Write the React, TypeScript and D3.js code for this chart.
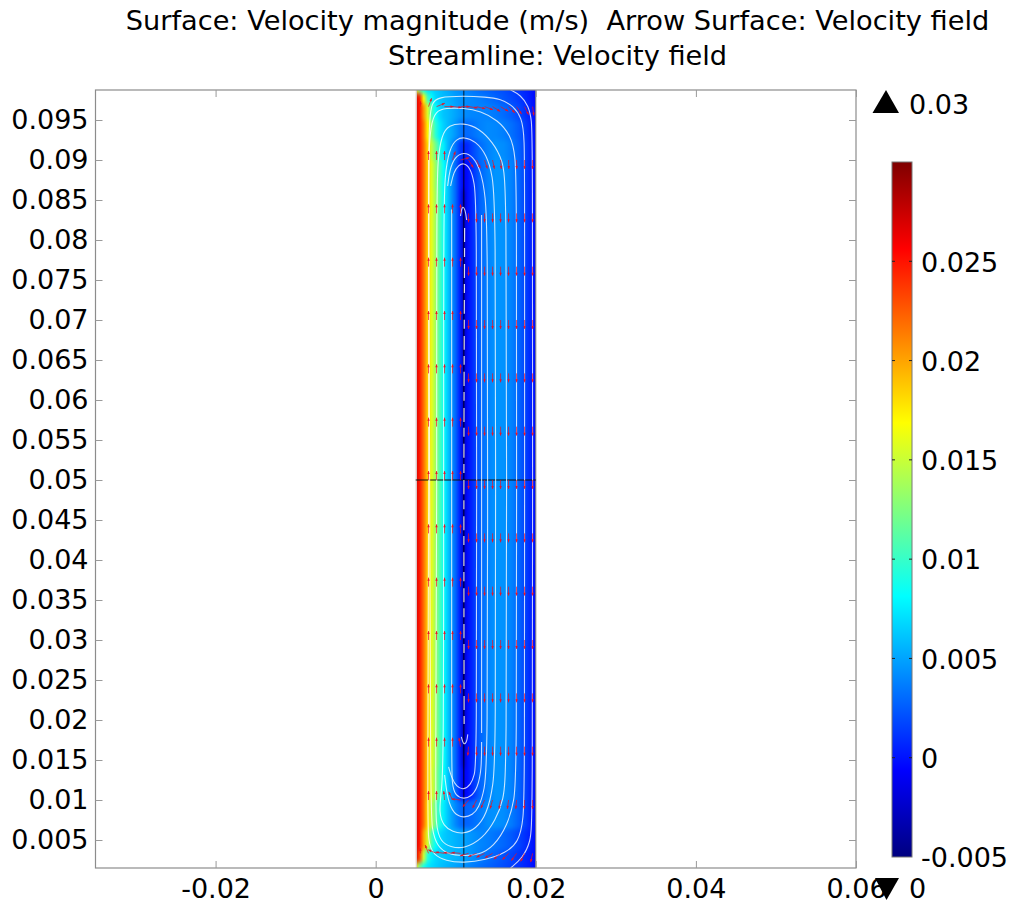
import React, { useEffect, useRef } from 'react';
import * as d3 from 'd3';

const WIDTH = 1009;
const HEIGHT = 903;
const FONT = '"DejaVu Sans", sans-serif';

const titleLines = [
  'Surface: Velocity magnitude (m/s)  Arrow Surface: Velocity field',
  'Streamline: Velocity field',
];

const xTicks = [-0.02, 0, 0.02, 0.04, 0.06];
const yTicks = [
  0.005, 0.01, 0.015, 0.02, 0.025, 0.03, 0.035, 0.04, 0.045, 0.05, 0.055, 0.06, 0.065, 0.07, 0.075, 0.08, 0.085, 0.09,
  0.095,
];
const barTicks = [-0.005, 0, 0.005, 0.01, 0.015, 0.02, 0.025];
const maxLabel = '0.03';
const minLabel = '0';

// jet colour table, fractions of the colour range
const jetStops = [0, 0.125, 0.375, 0.625, 0.875, 1];
const jetColors = ['#00007f', '#0000ff', '#00ffff', '#ffff00', '#ff0000', '#7f0000'];

// velocity samples
const fieldX = [
  0.005, 0.0055, 0.006, 0.0065, 0.007, 0.0075, 0.008, 0.0085, 0.009, 0.0095, 0.01, 0.0105, 0.011, 0.0115, 0.012, 0.013,
  0.014, 0.015, 0.016, 0.017, 0.018, 0.019, 0.02,
];
const fieldY = [
  0.09875, 0.09788, 0.09625, 0.09375, 0.09125, 0.08875, 0.08375, 0.05, 0.01625, 0.01188, 0.00813, 0.00463, 0.00288,
  0.0015,
];
const fieldRows = [
  [0.0165, 0.012, 0.0085, 0.0072, 0.0068, 0.0064, 0.006, 0.0056, 0.0052, 0.0048, 0.0045, 0.0042, 0.004, 0.0037, 0.0035, 0.003, 0.0027, 0.0023, 0.002, 0.0015, 0.001, 0.0004, -0.0004],
  [0.027, 0.0245, 0.017, 0.0105, 0.0082, 0.0068, 0.0062, 0.0058, 0.0055, 0.0052, 0.0048, 0.0045, 0.0043, 0.0041, 0.004, 0.0037, 0.0033, 0.0028, 0.0023, 0.0018, 0.0013, 0.0005, -0.0004],
  [0.027, 0.0248, 0.0205, 0.0155, 0.0105, 0.0082, 0.0068, 0.0061, 0.0058, 0.0054, 0.005, 0.0046, 0.0042, 0.0041, 0.004, 0.0039, 0.0038, 0.0035, 0.003, 0.0025, 0.0017, 0.0007, -0.0003],
  [0.027, 0.0248, 0.0215, 0.0172, 0.0128, 0.0095, 0.0075, 0.0065, 0.0058, 0.0052, 0.0045, 0.0037, 0.003, 0.003, 0.0032, 0.0038, 0.0041, 0.004, 0.0037, 0.0032, 0.0024, 0.0011, -0.0003],
  [0.027, 0.0248, 0.0218, 0.0182, 0.0148, 0.012, 0.0093, 0.0075, 0.0058, 0.0045, 0.0032, 0.0015, 0.0005, 0.0008, 0.0016, 0.003, 0.0038, 0.0044, 0.0042, 0.0036, 0.0026, 0.0012, -0.0003],
  [0.027, 0.0248, 0.0218, 0.0185, 0.0158, 0.0132, 0.0106, 0.0082, 0.0063, 0.0045, 0.0028, 0.0007, -0.001, -0.0002, 0.0007, 0.0027, 0.0038, 0.0045, 0.0044, 0.0038, 0.0027, 0.0012, -0.0003],
  [0.027, 0.0248, 0.0218, 0.0185, 0.016, 0.0135, 0.0108, 0.0083, 0.0063, 0.0045, 0.0028, 0.0005, -0.0025, -0.0002, 0.0006, 0.0027, 0.0038, 0.0045, 0.0044, 0.0038, 0.0027, 0.0012, -0.0003],
  [0.027, 0.0248, 0.0218, 0.0185, 0.016, 0.0135, 0.0108, 0.0083, 0.0063, 0.0045, 0.0028, 0.0005, -0.0025, -0.0002, 0.0006, 0.0027, 0.0038, 0.0045, 0.0044, 0.0038, 0.0027, 0.0012, -0.0003],
  [0.027, 0.0248, 0.0218, 0.0185, 0.016, 0.0135, 0.0108, 0.0083, 0.0063, 0.0045, 0.0028, 0.0005, -0.0025, -0.0002, 0.0006, 0.0027, 0.0038, 0.0045, 0.0044, 0.0038, 0.0027, 0.0012, -0.0003],
  [0.027, 0.0248, 0.0218, 0.0185, 0.0158, 0.0132, 0.0106, 0.0082, 0.0063, 0.0045, 0.0028, 0.0007, -0.001, -0.0002, 0.0007, 0.0027, 0.0038, 0.0045, 0.0044, 0.0038, 0.0027, 0.0012, -0.0003],
  [0.027, 0.0248, 0.0218, 0.0178, 0.0145, 0.0115, 0.0092, 0.0075, 0.0062, 0.005, 0.004, 0.0032, 0.0027, 0.0028, 0.003, 0.0036, 0.0042, 0.0044, 0.0042, 0.0036, 0.0026, 0.0012, -0.0003],
  [0.027, 0.0248, 0.02, 0.0155, 0.0105, 0.0082, 0.007, 0.0064, 0.006, 0.0058, 0.0055, 0.0052, 0.005, 0.0047, 0.0045, 0.004, 0.0037, 0.0033, 0.0029, 0.0024, 0.0016, 0.0007, -0.0003],
  [0.027, 0.023, 0.015, 0.0095, 0.0075, 0.0068, 0.0064, 0.0062, 0.006, 0.0058, 0.0056, 0.0053, 0.005, 0.0047, 0.0044, 0.0038, 0.0032, 0.0027, 0.0022, 0.0017, 0.0011, 0.0004, -0.0004],
  [0.0175, 0.012, 0.0088, 0.0074, 0.0069, 0.0065, 0.0061, 0.0058, 0.0055, 0.0052, 0.0049, 0.0046, 0.0043, 0.004, 0.0037, 0.0032, 0.0028, 0.0024, 0.002, 0.0015, 0.001, 0.0004, -0.0004],
];

// arrows: fixed length, direction in degrees per grid point (null = no arrow)
const arrowX = [0.0056, 0.0066, 0.0076, 0.0086, 0.0096, 0.0106, 0.0116, 0.0126, 0.0136, 0.0146, 0.0156, 0.0166, 0.0176, 0.0186, 0.0196];
const arrowY = [
  0.09667, 0.09, 0.08333, 0.07667, 0.07, 0.06333, 0.05667, 0.05, 0.04333, 0.03667, 0.03, 0.02333, 0.01667, 0.01, 0.00333,
];
const midDirs = [null, 90, 90, 90, 90, 90, -90, -90, -90, -90, -90, -90, -90, -90, -90];
const arrowDirs = [
  [90, 70, 22, 0, -6, 0, -8, -14, -20, -32, -31, -44, -56, -64, -82],
  [null, 90, 90, 90, 72, 15, -58, -65, -72, -78, -85, -88, -89, -90, -90],
  midDirs,
  midDirs,
  midDirs,
  midDirs,
  midDirs,
  midDirs,
  midDirs,
  midDirs,
  midDirs,
  midDirs,
  [null, 90, 90, 90, 90, 100, -95, -90, -90, -90, -90, -90, -90, -90, -90],
  [null, 90, 90, 95, 115, 173, -130, -116, -114, -106, -100, -98, -95, -92, -90],
  [95, 112, 157, 172, 175, 175, -163, -158, -154, -150, -139, -134, -126, -116, -102],
];

// streamlines, [x, y] in metres
const streamOuter = [
  [0.01685, 0.09875], [0.0181, 0.09813], [0.0191, 0.09675], [0.01948, 0.095], [0.0196, 0.0925], [0.0196, 0.05],
  [0.0196, 0.0075], [0.01935, 0.00475], [0.01835, 0.00275], [0.01685, 0.0015],
];
const stream1 = [
  [0.00662, 0.05], [0.00662, 0.0788], [0.00662, 0.0913], [0.00674, 0.09525], [0.007, 0.0971], [0.00774, 0.09788],
  [0.01099, 0.098], [0.01373, 0.09788], [0.01561, 0.09763], [0.01723, 0.09675], [0.01823, 0.09525], [0.0186, 0.09313],
  [0.0186, 0.085], [0.0186, 0.05], [0.0186, 0.0125], [0.01848, 0.0075], [0.01785, 0.00475], [0.01623, 0.00338],
  [0.01373, 0.0025], [0.01099, 0.00213], [0.00874, 0.00238], [0.00724, 0.00313], [0.0065, 0.00463], [0.0065, 0.01],
  [0.00662, 0.05],
];
const stream2 = [
  [0.00674, 0.05], [0.00662, 0.085], [0.00662, 0.09063], [0.00687, 0.09438], [0.00749, 0.09613], [0.00874, 0.0965],
  [0.01099, 0.0965], [0.01311, 0.09613], [0.01523, 0.095], [0.01685, 0.09313], [0.01748, 0.09063], [0.0176, 0.085],
  [0.0176, 0.05], [0.0176, 0.01375], [0.01735, 0.01], [0.01648, 0.00688], [0.01473, 0.00413], [0.01286, 0.00313],
  [0.01099, 0.003], [0.00899, 0.00325], [0.00774, 0.00413], [0.00699, 0.00625], [0.00687, 0.01], [0.00674, 0.05],
];
const stream3 = [
  [0.00762, 0.05], [0.00762, 0.085], [0.00774, 0.09], [0.00824, 0.09313], [0.00911, 0.09438], [0.01099, 0.09463],
  [0.01286, 0.094], [0.01461, 0.09225], [0.01586, 0.09], [0.01635, 0.08688], [0.01635, 0.05], [0.01635, 0.01375],
  [0.01598, 0.01], [0.01498, 0.0075], [0.01336, 0.00513], [0.01099, 0.00388], [0.00936, 0.00413], [0.00811, 0.00475],
  [0.00749, 0.00688], [0.00749, 0.01125], [0.00762, 0.05],
];
const stream4 = [
  [0.00849, 0.05], [0.00849, 0.0825], [0.00861, 0.08813], [0.00924, 0.09150], [0.01011, 0.09263], [0.01099, 0.09288],
  [0.01249, 0.09238], [0.01386, 0.09063], [0.01461, 0.08813], [0.01498, 0.08375], [0.01498, 0.05], [0.01498, 0.01625],
  [0.01473, 0.01188], [0.01386, 0.00813], [0.01248, 0.00638], [0.01099, 0.00575], [0.00961, 0.006], [0.00849, 0.00675],
  [0.00787, 0.00838], [0.00824, 0.01125], [0.00849, 0.015], [0.00849, 0.05],
];
const stream5 = [
  [0.00899, 0.08675], [0.00924, 0.08875], [0.00986, 0.09038], [0.01099, 0.091], [0.01211, 0.0905], [0.01311, 0.08875],
  [0.01373, 0.08563], [0.01398, 0.08], [0.01398, 0.05], [0.01398, 0.015], [0.01361, 0.01125], [0.01286, 0.009],
  [0.01211, 0.00813], [0.01099, 0.00775], [0.00974, 0.00825], [0.00899, 0.01], [0.00861, 0.01313],
];
const stream6 = [
  [0.00936, 0.08675], [0.00974, 0.0885], [0.01036, 0.08938], [0.01099, 0.08963], [0.01174, 0.08913], [0.01236, 0.08725],
  [0.01261, 0.08375], [0.01261, 0.05], [0.01261, 0.015], [0.01236, 0.01313], [0.01186, 0.01188], [0.01099, 0.01125],
  [0.01011, 0.01163], [0.00949, 0.01275], [0.00911, 0.01413],
];
const stream7a = [[0.01323, 0.08313], [0.01323, 0.05], [0.01323, 0.01838]];
const stream7b = [
  [0.01323, 0.01725], [0.01323, 0.0138], [0.01273, 0.0115], [0.01186, 0.01038], [0.01099, 0.01013], [0.00999, 0.0105],
  [0.00949, 0.01188], [0.00949, 0.01625], [0.00949, 0.05], [0.00949, 0.0838],
];
const streamHookTop = [[0.0106, 0.0830], [0.0108, 0.08438], [0.0112, 0.0838], [0.01136, 0.0825]];
const streamHookBottom = [[0.0107, 0.0179], [0.01099, 0.0168], [0.0114, 0.0173], [0.0115, 0.0182]];
const streamCenter = [[0.01111, 0.0815], [0.01099, 0.05], [0.01105, 0.0195]];
const streamLines = [
  streamOuter, stream1, stream2, stream3, stream4, stream5, stream6, stream7a, stream7b, streamHookTop, streamHookBottom,
];

const App = () => {
  const svgRef = useRef<SVGSVGElement>(null);

  useEffect(() => {
    const svg = d3.select(svgRef.current);
    svg.selectAll('*').remove();

    const left = 95.5;
    const right = 856;
    const top = 90;
    const bottom = 868;

    const x = d3.scaleLinear().domain([-0.035, 0.06]).range([left, right]);
    const y = d3.scaleLinear().domain([0.0015, 0.09875]).range([bottom, top]);
    const bar = d3.scaleLinear().domain([-0.005, 0.03]).range([857, 162]);

    const jet = d3
      .scaleLinear<string>()
      .domain(jetStops.map(f => -0.005 + f * 0.035))
      .range(jetColors);

    const defs = svg.append('defs');

    defs
      .append('clipPath')
      .attr('id', 'fieldClip')
      .append('rect')
      .attr('x', x(0.005))
      .attr('y', top)
      .attr('width', x(0.02) - x(0.005))
      .attr('height', bottom - top);

    const blur = defs
      .append('filter')
      .attr('id', 'rowBlur')
      .attr('filterUnits', 'userSpaceOnUse')
      .attr('x', 380)
      .attr('y', 40)
      .attr('width', 200)
      .attr('height', 880)
      .attr('color-interpolation-filters', 'sRGB');
    blur.append('feGaussianBlur').attr('stdDeviation', '0 2.5');

    // surface: one horizontal gradient per sampled row
    fieldRows.forEach((row, i) => {
      const grad = defs
        .append('linearGradient')
        .attr('id', `row${i}`)
        .attr('gradientUnits', 'userSpaceOnUse')
        .attr('x1', x(fieldX[0]))
        .attr('x2', x(fieldX[fieldX.length - 1]))
        .attr('y1', 0)
        .attr('y2', 0);
      row.forEach((v, j) => {
        grad
          .append('stop')
          .attr('offset', (fieldX[j] - fieldX[0]) / (fieldX[fieldX.length - 1] - fieldX[0]))
          .attr('stop-color', jet(v));
      });
    });

    const field = svg.append('g').attr('clip-path', 'url(#fieldClip)');
    const bands = field.append('g').attr('filter', 'url(#rowBlur)');
    fieldY.forEach((v, i) => {
      const y0 = i === 0 ? top - 30 : (y(fieldY[i - 1]) + y(v)) / 2;
      const y1 = i === fieldY.length - 1 ? bottom + 30 : (y(v) + y(fieldY[i + 1])) / 2;
      bands
        .append('rect')
        .attr('x', x(0.005))
        .attr('y', y0)
        .attr('width', x(0.02) - x(0.005))
        .attr('height', y1 - y0 + 0.5)
        .attr('fill', `url(#row${i})`);
    });

    // geometry edges
    field
      .append('line')
      .attr('x1', x(0.005) + 0.5)
      .attr('x2', x(0.005) + 0.5)
      .attr('y1', top)
      .attr('y2', bottom)
      .attr('stroke', '#d8d0d0')
      .attr('stroke-width', 1.5);
    svg
      .append('line')
      .attr('x1', x(0.02))
      .attr('x2', x(0.02))
      .attr('y1', top)
      .attr('y2', bottom)
      .attr('stroke', '#777')
      .attr('stroke-width', 1);
    svg
      .append('line')
      .attr('x1', x(0.005))
      .attr('x2', x(0.02))
      .attr('y1', y(0.05))
      .attr('y2', y(0.05))
      .attr('stroke', '#111')
      .attr('stroke-width', 1);
    svg
      .append('line')
      .attr('x1', x(0.011))
      .attr('x2', x(0.011))
      .attr('y1', top)
      .attr('y2', bottom)
      .attr('stroke', '#000')
      .attr('stroke-opacity', 0.55)
      .attr('stroke-width', 1.5);

    // streamlines
    const streamPath = d3
      .line<number[]>()
      .x(d => x(d[0]))
      .y(d => y(d[1]))
      .curve(d3.curveBasis);
    const streams = svg.append('g').attr('clip-path', 'url(#fieldClip)').attr('fill', 'none').attr('stroke', '#fff');
    streams
      .selectAll('path.stream')
      .data(streamLines)
      .enter()
      .append('path')
      .attr('class', 'stream')
      .attr('d', d => streamPath(d))
      .attr('stroke-opacity', 0.78)
      .attr('stroke-width', 1.1);
    streams
      .append('path')
      .attr('d', streamPath(streamCenter))
      .attr('stroke-opacity', 0.85)
      .attr('stroke-width', 1.2)
      .attr('stroke-dasharray', '14 6 9 7');

    // arrows
    const arrowLen = 9;
    const arrows = svg.append('g');
    arrowDirs.forEach((row, i) => {
      row.forEach((dir, j) => {
        if (dir === null) return;
        const a = (dir * Math.PI) / 180;
        const x0 = x(arrowX[j]);
        const y0 = y(arrowY[i]);
        const len = j === 0 ? arrowLen * 0.6 : arrowLen;
        const x1 = x0 + Math.cos(a) * len;
        const y1 = y0 - Math.sin(a) * len;
        arrows
          .append('line')
          .attr('x1', x0)
          .attr('y1', y0)
          .attr('x2', x1)
          .attr('y2', y1)
          .attr('stroke', '#f01020')
          .attr('stroke-opacity', 0.7)
          .attr('stroke-width', 1);
        const hx = x1 - Math.cos(a) * 3;
        const hy = y1 + Math.sin(a) * 3;
        const nx = Math.sin(a) * 1.3;
        const ny = Math.cos(a) * 1.3;
        arrows
          .append('path')
          .attr('d', `M${x1},${y1}L${hx + nx},${hy + ny}L${hx - nx},${hy - ny}Z`)
          .attr('fill', '#f01020')
          .attr('fill-opacity', 0.9);
      });
    });

    // frame and axes
    svg
      .append('rect')
      .attr('x', left)
      .attr('y', top)
      .attr('width', right - left)
      .attr('height', bottom - top)
      .attr('fill', 'none')
      .attr('stroke', '#8c8c8c')
      .attr('stroke-width', 1.2);

    const styleAxis = (g: any) => {
      g.select('.domain').remove();
      g.selectAll('.tick line').attr('stroke', '#9a9a9a').attr('stroke-width', 1);
      g.selectAll('text').attr('fill', '#000').attr('font-family', FONT).attr('font-size', 27);
    };
    svg
      .append('g')
      .attr('transform', `translate(0,${bottom})`)
      .call(d3.axisBottom(x).tickValues(xTicks).tickSize(-7).tickPadding(10.5).tickFormat(d => String(d)))
      .call(styleAxis);
    svg
      .append('g')
      .attr('transform', `translate(0,${top})`)
      .call(d3.axisTop(x).tickValues(xTicks).tickSize(-7).tickFormat(() => ''))
      .call(styleAxis);
    svg
      .append('g')
      .attr('transform', `translate(${left},0)`)
      .call(d3.axisLeft(y).tickValues(yTicks).tickSize(-7).tickPadding(7).tickFormat(d => String(d)))
      .call(styleAxis);
    svg
      .append('g')
      .attr('transform', `translate(${right},0)`)
      .call(d3.axisRight(y).tickValues(yTicks).tickSize(-7).tickFormat(() => ''))
      .call(styleAxis);

    // title
    svg
      .append('g')
      .selectAll('text')
      .data(titleLines)
      .enter()
      .append('text')
      .attr('x', 557.5)
      .attr('y', (_, i) => 30 + i * 35)
      .attr('text-anchor', 'middle')
      .attr('font-family', FONT)
      .attr('font-size', 27.2)
      .style('white-space', 'pre')
      .text(d => d);

    // colour bar
    const barGrad = defs
      .append('linearGradient')
      .attr('id', 'barGrad')
      .attr('x1', 0)
      .attr('x2', 0)
      .attr('y1', 1)
      .attr('y2', 0);
    jetStops.forEach((f, i) => {
      barGrad.append('stop').attr('offset', f).attr('stop-color', jetColors[i]);
    });
    svg
      .append('rect')
      .attr('x', 892)
      .attr('y', bar(0.03))
      .attr('width', 20)
      .attr('height', bar(-0.005) - bar(0.03))
      .attr('fill', 'url(#barGrad)')
      .attr('stroke', '#777')
      .attr('stroke-width', 1);
    const barAxis = svg.append('g');
    barTicks.forEach(t => {
      if (t !== -0.005) {
        barAxis
          .append('path')
          .attr('d', `M892,${bar(t)}h3M909,${bar(t)}h3`)
          .attr('stroke', '#222')
          .attr('stroke-width', 1);
      }
      barAxis
        .append('text')
        .attr('x', 921)
        .attr('y', bar(t))
        .attr('dy', '0.38em')
        .attr('font-family', FONT)
        .attr('font-size', 27)
        .text(String(t));
    });

    // out of range markers
    svg.append('path').attr('d', 'M886,90L899,113L872.5,113Z').attr('fill', '#000');
    svg.append('path').attr('d', 'M875,878L899,878L886.5,900Z').attr('fill', '#000');
    svg
      .append('text')
      .attr('x', 909)
      .attr('y', 114)
      .attr('font-family', FONT)
      .attr('font-size', 27)
      .text(maxLabel);
    svg
      .append('text')
      .attr('x', 909)
      .attr('y', 898)
      .attr('font-family', FONT)
      .attr('font-size', 27)
      .text(minLabel);
  }, []);

  return (
    <svg
      ref={svgRef}
      width={WIDTH}
      height={HEIGHT}
      style={{ position: 'absolute', left: 0, top: 0, display: 'block', background: '#fff' }}
    />
  );
};

export default App;
